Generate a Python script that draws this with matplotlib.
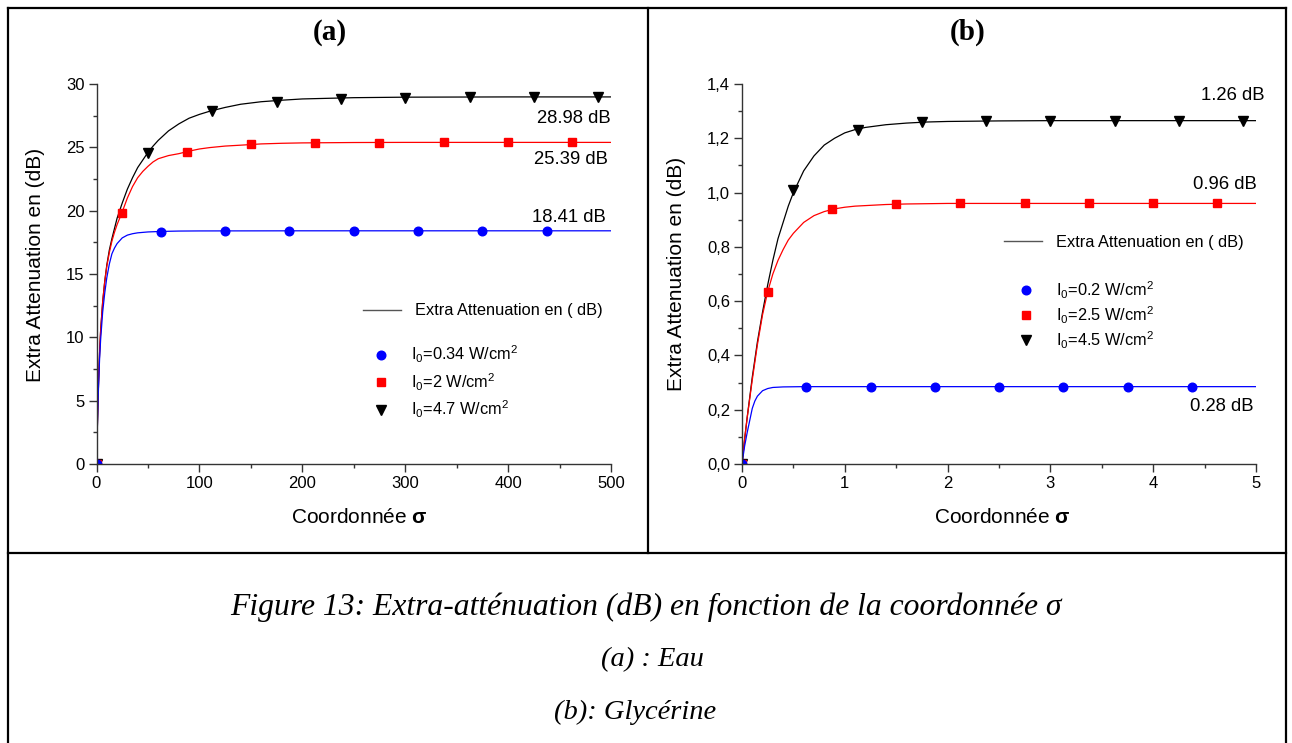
import matplotlib
matplotlib.use("Agg")
import matplotlib.pyplot as plt
from matplotlib.lines import Line2D
from matplotlib.ticker import MultipleLocator, FuncFormatter

plt.rcParams['font.family'] = ['Liberation Sans', 'DejaVu Sans']
plt.rcParams['mathtext.fontset'] = 'custom'
plt.rcParams['mathtext.rm'] = 'Liberation Sans'
plt.rcParams['mathtext.it'] = 'Liberation Sans:italic'
plt.rcParams['mathtext.bf'] = 'Liberation Sans:bold'

# ---------------- Data (a) : Eau ----------------
curve_a_x = [0, 1, 2, 3, 4, 6, 8, 10, 12.5, 15, 17.5, 20, 25, 30, 35, 40, 45, 50, 55, 60, 70, 80, 90,
             100, 110, 125, 140, 160, 180, 200, 250, 300, 400, 500]
curve_a_black = [0, 3.5, 6.5, 8.8, 10.5, 12.8, 14.4, 15.7, 16.9, 17.8, 18.6, 19.4, 20.6, 21.7, 22.6, 23.4,
                 24.0, 24.6, 25.1, 25.55, 26.3, 26.85, 27.3, 27.6, 27.85, 28.15, 28.4, 28.6, 28.72, 28.82,
                 28.92, 28.96, 28.98, 28.98]
curve_a_red = [0, 3.5, 6.5, 8.8, 10.5, 12.8, 14.4, 15.6, 16.7, 17.6, 18.3, 18.9, 19.9, 21.0, 21.9, 22.6,
               23.1, 23.5, 23.85, 24.1, 24.35, 24.5, 24.7, 24.87, 24.98, 25.1, 25.17, 25.27, 25.32, 25.35,
               25.38, 25.39, 25.39, 25.39]
curve_a_blue_x = [0, 1, 2, 3, 4, 6, 8, 10, 12.5, 15, 17.5, 20, 25, 30, 35, 40, 50, 62.5, 80, 100, 200, 500]
curve_a_blue = [0, 3.4, 6.2, 8.3, 9.8, 12.0, 13.5, 14.7, 15.8, 16.6, 17.05, 17.4, 17.85, 18.07, 18.18,
                18.25, 18.32, 18.36, 18.39, 18.40, 18.41, 18.41]

pts_a_black_x = [0, 50, 112.5, 175, 237.5, 300, 362.5, 425, 487.5]
pts_a_black = [0, 24.55, 27.85, 28.6, 28.8, 28.9, 28.94, 28.96, 28.97]
pts_a_red_x = [0, 25, 87.5, 150, 212.5, 275, 337.5, 400, 462.5]
pts_a_red = [0, 19.8, 24.65, 25.25, 25.35, 25.38, 25.39, 25.39, 25.39]
pts_a_blue_x = [0, 62.5, 125, 187.5, 250, 312.5, 375, 437.5]
pts_a_blue = [0, 18.28, 18.4, 18.41, 18.41, 18.41, 18.41, 18.41]

labels_a = ['I$_0$=0.34 W/cm$^2$', 'I$_0$=2 W/cm$^2$', 'I$_0$=4.7 W/cm$^2$']
ann_a = ['28.98 dB', '25.39 dB', '18.41 dB']

# ---------------- Data (b) : Glycérine ----------------
curve_b_x = [0, 0.025, 0.05, 0.1, 0.15, 0.2, 0.25, 0.3, 0.35, 0.4, 0.45, 0.5, 0.6, 0.7, 0.8, 0.9, 1.0,
             1.1, 1.2, 1.4, 1.6, 1.8, 2.0, 2.5, 3, 4, 5]
curve_b_black = [0, 0.09, 0.17, 0.32, 0.45, 0.56, 0.66, 0.75, 0.83, 0.89, 0.95, 1.00, 1.08, 1.135, 1.175,
                 1.2, 1.22, 1.232, 1.24, 1.25, 1.256, 1.26, 1.262, 1.264, 1.265, 1.265, 1.265]
curve_b_red = [0, 0.09, 0.17, 0.31, 0.44, 0.55, 0.635, 0.70, 0.75, 0.79, 0.825, 0.85, 0.89, 0.915, 0.93,
               0.94, 0.946, 0.95, 0.952, 0.956, 0.958, 0.959, 0.96, 0.96, 0.96, 0.96, 0.96]
curve_b_blue_x = [0, 0.025, 0.05, 0.075, 0.1, 0.125, 0.15, 0.2, 0.25, 0.3, 0.4, 0.6, 1, 5]
curve_b_blue = [0, 0.065, 0.115, 0.16, 0.205, 0.232, 0.25, 0.27, 0.278, 0.282, 0.284, 0.285, 0.285, 0.285]

pts_b_black_x = [0, 0.5, 1.125, 1.75, 2.375, 3.0, 3.625, 4.25, 4.875]
pts_b_black = [0, 1.01, 1.23, 1.26, 1.264, 1.265, 1.265, 1.265, 1.265]
pts_b_red_x = [0, 0.25, 0.875, 1.5, 2.125, 2.75, 3.375, 4.0, 4.625]
pts_b_red = [0, 0.635, 0.938, 0.957, 0.96, 0.96, 0.96, 0.96, 0.96]
pts_b_blue_x = [0, 0.625, 1.25, 1.875, 2.5, 3.125, 3.75, 4.375]
pts_b_blue = [0, 0.285, 0.285, 0.285, 0.285, 0.285, 0.285, 0.285]

labels_b = ['I$_0$=0.2 W/cm$^2$', 'I$_0$=2.5 W/cm$^2$', 'I$_0$=4.5 W/cm$^2$']
ann_b = ['1.26 dB', '0.96 dB', '0.28 dB']

W, H = 1292, 743
fig = plt.figure(figsize=(W / 100, H / 100), dpi=100)


def fx(px):
    return px / W


def fy(py):
    return 1 - py / H


def style_axes(ax):
    for s in ['top', 'right']:
        ax.spines[s].set_visible(False)
    for s in ['left', 'bottom']:
        ax.spines[s].set_color('#333333')
        ax.spines[s].set_linewidth(1.0)
    ax.tick_params(which='major', direction='out', length=5.5, width=1.0, color='#333333',
                   labelsize=12, pad=3)
    ax.tick_params(which='minor', direction='out', length=3, width=1.0, color='#333333')
    ax.set_ylabel('Extra Attenuation en (dB)', fontsize=15)
    ax.set_xlabel(r'Coordonnée $\mathbf{\sigma}$', fontsize=15)


lw = 0.9
MS_T, MS_S, MS_C = 7.0, 5.4, 6.2
ANN_FS = 13.3
LEG_FS = 11.8

# ---------- Panel (a) ----------
axa = fig.add_axes([fx(96.5), fy(464), fx(611) - fx(96.5), fy(84) - fy(464)])
axa.plot(curve_a_x, curve_a_black, color='black', lw=lw)
axa.plot(curve_a_x, curve_a_red, color='#ff0000', lw=lw)
axa.plot(curve_a_blue_x, curve_a_blue, color='#0000ff', lw=lw)
hk = axa.plot(pts_a_black_x, pts_a_black, 'v', color='black', ms=MS_T, ls='none', label=labels_a[2])[0]
hr = axa.plot(pts_a_red_x, pts_a_red, 's', color='#ff0000', ms=MS_S, ls='none', label=labels_a[1])[0]
hb = axa.plot(pts_a_blue_x, pts_a_blue, 'o', color='#0000ff', ms=MS_C, ls='none', label=labels_a[0])[0]
axa.set_xlim(0, 500)
axa.set_ylim(0, 30)
axa.xaxis.set_major_locator(MultipleLocator(100))
axa.xaxis.set_minor_locator(MultipleLocator(50))
axa.yaxis.set_major_locator(MultipleLocator(5))
axa.yaxis.set_minor_locator(MultipleLocator(2.5))
style_axes(axa)
axa.yaxis.set_label_coords(-0.100, 0.525)
axa.xaxis.set_label_coords(0.51, -0.115)

axa.text(500, 27.3, ann_a[0], ha='right', va='center', fontsize=ANN_FS)
axa.text(497, 24.0, ann_a[1], ha='right', va='center', fontsize=ANN_FS)
axa.text(495, 19.5, ann_a[2], ha='right', va='center', fontsize=ANN_FS)

gray_line = Line2D([], [], color='#555555', lw=1.0)
leg1 = axa.legend([gray_line], ['Extra Attenuation en ( dB)'], loc='center left',
                  bbox_to_anchor=(0.505, 0.403), frameon=False, fontsize=LEG_FS,
                  handlelength=2.3, handletextpad=0.9, borderaxespad=0)
axa.add_artist(leg1)
axa.legend([hb, hr, hk], labels_a, loc='upper left', bbox_to_anchor=(0.515, 0.334),
           frameon=False, fontsize=LEG_FS, handlelength=1.6, handletextpad=1.0,
           labelspacing=0.38, borderaxespad=0)

# ---------- Panel (b) ----------
axb = fig.add_axes([fx(742), fy(464), fx(1256) - fx(742), fy(84) - fy(464)])
axb.plot(curve_b_x, curve_b_black, color='black', lw=lw)
axb.plot(curve_b_x, curve_b_red, color='#ff0000', lw=lw)
axb.plot(curve_b_blue_x, curve_b_blue, color='#0000ff', lw=lw)
hk2 = axb.plot(pts_b_black_x, pts_b_black, 'v', color='black', ms=MS_T, ls='none', label=labels_b[2])[0]
hr2 = axb.plot(pts_b_red_x, pts_b_red, 's', color='#ff0000', ms=MS_S, ls='none', label=labels_b[1])[0]
hb2 = axb.plot(pts_b_blue_x, pts_b_blue, 'o', color='#0000ff', ms=MS_C, ls='none', label=labels_b[0])[0]
axb.set_xlim(0, 5)
axb.set_ylim(0, 1.4)
axb.xaxis.set_major_locator(MultipleLocator(1))
axb.xaxis.set_minor_locator(MultipleLocator(0.5))
axb.yaxis.set_major_locator(MultipleLocator(0.2))
axb.yaxis.set_minor_locator(MultipleLocator(0.1))
axb.yaxis.set_major_formatter(FuncFormatter(lambda v, p: f'{v:.1f}'.replace('.', ',')))
style_axes(axb)
axb.yaxis.set_label_coords(-0.109, 0.5)
axb.xaxis.set_label_coords(0.506, -0.115)

axb.text(5.08, 1.357, ann_b[0], ha='right', va='center', fontsize=ANN_FS, clip_on=False)
axb.text(5.01, 1.029, ann_b[1], ha='right', va='center', fontsize=ANN_FS, clip_on=False)
axb.text(4.98, 0.212, ann_b[2], ha='right', va='center', fontsize=ANN_FS, clip_on=False)

gray_line2 = Line2D([], [], color='#555555', lw=1.0)
leg2 = axb.legend([gray_line2], ['Extra Attenuation en ( dB)'], loc='center left',
                  bbox_to_anchor=(0.497, 0.584), frameon=False, fontsize=LEG_FS,
                  handlelength=2.3, handletextpad=0.9, borderaxespad=0)
axb.add_artist(leg2)
axb.legend([hb2, hr2, hk2], labels_b, loc='upper left', bbox_to_anchor=(0.515, 0.503),
           frameon=False, fontsize=LEG_FS, handlelength=1.6, handletextpad=1.0,
           labelspacing=0.22, borderaxespad=0)

# ---------- Panel titles ----------
fig.text(fx(330), fy(32), '(a)', ha='center', va='center', fontsize=21, fontweight='bold',
         family=['Liberation Serif', 'DejaVu Serif'])
fig.text(fx(968), fy(32), '(b)', ha='center', va='center', fontsize=21, fontweight='bold',
         family=['Liberation Serif', 'DejaVu Serif'])

# ---------- Table borders ----------
blw = 1.6
for (x0, y0, x1, y1) in [(8, 8, 1286, 8), (8, 8, 8, 743), (1286, 8, 1286, 743),
                         (648, 8, 648, 553), (8, 553, 1286, 553)]:
    fig.add_artist(Line2D([fx(x0), fx(x1)], [fy(y0), fy(y1)], color='black', lw=blw,
                          transform=fig.transFigure))

# ---------- Caption ----------
cap_font = dict(ha='center', va='center', style='italic',
                family=['Liberation Serif', 'DejaVu Serif'])
fig.text(fx(646), fy(607), 'Figure 13: Extra-atténuation (dB) en fonction de la coordonnée σ',
         fontsize=22.8, **cap_font)
fig.text(fx(652), fy(660), '(a) : Eau', fontsize=20.5, **cap_font)
fig.text(fx(635), fy(712), '(b): Glycérine', fontsize=20.5, **cap_font)

fig.savefig('out.png', dpi=100)
